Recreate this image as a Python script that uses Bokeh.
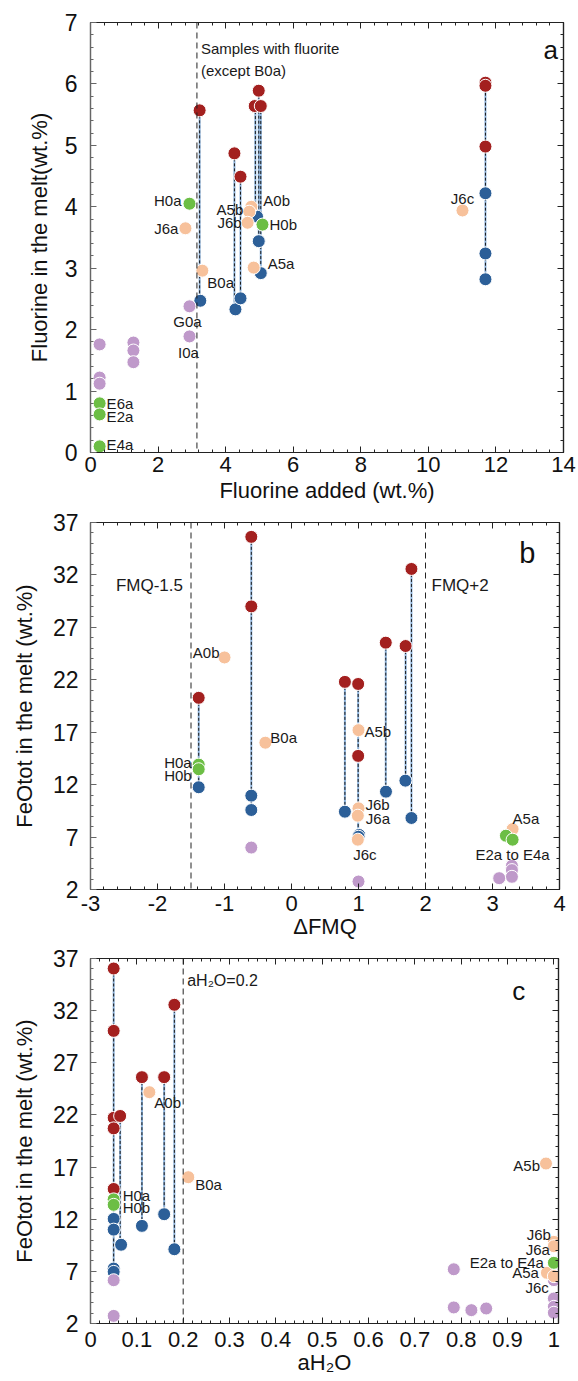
from bokeh.plotting import figure
from bokeh.models import FixedTicker, LinearAxis, Span, Range1d, CustomLabelingPolicy
from bokeh.layouts import column
from bokeh.embed import file_html
from bokeh.resources import INLINE
from bokeh.core.properties import value

FONT = "Liberation Sans"
RED = "#A3201F"
BLUE = "#2C5F98"
PEACH = "#F7C19B"
GREEN = "#6CBE45"
PURPLE = "#BF99CA"

# ---------------- Panel a data ----------------
a_red_x = [3.23, 4.26, 4.44, 4.86, 4.98, 5.04, 11.69, 11.69, 11.69]
a_red_y = [5.57, 4.87, 4.49, 5.64, 5.89, 5.64, 6.02, 5.97, 4.98]
a_blue_x = [3.25, 4.29, 4.44, 4.93, 4.98, 5.04, 11.69, 11.69, 11.69]
a_blue_y = [2.47, 2.33, 2.51, 3.84, 3.44, 2.92, 4.22, 3.24, 2.82]
a_peach_x = [3.31, 2.81, 4.76, 4.70, 4.65, 4.83, 11.01]
a_peach_y = [2.96, 3.65, 4.00, 3.92, 3.74, 3.01, 3.94]
a_green_x = [2.93, 5.09, 0.27, 0.27, 0.27]
a_green_y = [4.05, 3.71, 0.80, 0.62, 0.10]
a_purple_x = [2.93, 2.93, 0.27, 0.27, 0.27, 1.27, 1.27, 1.27]
a_purple_y = [2.38, 1.89, 1.76, 1.22, 1.12, 1.79, 1.66, 1.47]
a_tie_x = [3.23, 4.26, 4.44, 4.88, 4.98, 5.04, 11.69]
a_tie_top = [5.57, 4.87, 4.49, 5.64, 5.89, 5.64, 6.02]
a_tie_bot = [2.47, 2.33, 2.51, 3.84, 3.44, 2.92, 2.82]
a_fluorite_line = 3.15

# ---------------- Panel b data ----------------
b_red_x = [-0.60, -0.60, -1.385, 0.797, 0.995, 0.995, 1.407, 1.703, 1.79]
b_red_y = [35.63, 29.0, 20.28, 21.8, 21.6, 14.74, 25.54, 25.22, 32.57]
b_blue_x = [-0.60, -0.60, -1.385, 0.797, 1.01, 1.0, 1.41, 1.70, 1.79]
b_blue_y = [10.95, 9.58, 11.75, 9.42, 7.2, 7.03, 11.33, 12.38, 8.82]
b_peach_x = [-1.0, -0.39, 1.0, 1.0, 0.99, 0.99, 3.30]
b_peach_y = [24.13, 16.0, 17.2, 9.74, 9.04, 6.75, 7.76]
b_green_x = [-1.385, -1.385, 3.20, 3.30]
b_green_y = [13.91, 13.47, 7.13, 6.75]
b_purple_x = [-0.60, 1.0, 3.29, 3.29, 3.29, 3.10]
b_purple_y = [6.0, 2.76, 4.26, 3.85, 3.21, 3.08]
b_tie_x = [-1.385, -0.60, 0.797, 0.995, 1.407, 1.703, 1.79]
b_tie_top = [20.28, 35.63, 21.8, 21.6, 25.54, 25.22, 32.57]
b_tie_bot = [11.75, 9.58, 9.42, 7.03, 11.33, 12.38, 8.82]
b_fmq_lines = [-1.5, 2.0]

# ---------------- Panel c data ----------------
c_red_x = [0.05, 0.05, 0.05, 0.064, 0.05, 0.05, 0.111, 0.159, 0.181]
c_red_y = [36.04, 30.06, 21.72, 21.9, 20.71, 14.9, 25.62, 25.62, 32.56]
c_blue_x = [0.05, 0.05, 0.05, 0.05, 0.066, 0.111, 0.159, 0.181]
c_blue_y = [12.03, 11.0, 7.27, 6.95, 9.55, 11.36, 12.48, 9.12]
c_peach_x = [0.127, 0.211, 0.983, 1.0, 1.0, 0.985, 1.0]
c_peach_y = [24.18, 16.03, 17.34, 9.83, 9.41, 6.86, 6.54]
c_green_x = [0.05, 0.05, 1.0]
c_green_y = [13.9, 13.38, 7.82]
c_purple_x = [0.05, 0.05, 0.784, 0.784, 0.822, 0.854, 1.0, 1.0, 1.0, 1.0]
c_purple_y = [6.15, 2.73, 7.2, 3.54, 3.28, 3.44, 6.16, 4.4, 3.6, 3.03]
c_tie_x = [0.05, 0.064, 0.111, 0.159, 0.181]
c_tie_top = [36.04, 21.9, 25.62, 25.62, 32.56]
c_tie_bot = [6.95, 9.55, 11.36, 12.48, 9.12]
c_aw_line = 0.2

# ---------------- tick labels ----------------
a_xticks = [0, 2, 4, 6, 8, 10, 12, 14]
a_yticks = [0, 1, 2, 3, 4, 5, 6, 7]
b_xticks = [-3, -2, -1, 0, 1, 2, 3, 4]
b_xlabels = ["-3", "-2", "-1", "0", "1", "2", "3", "4"]
fe_yticks = [2, 7, 12, 17, 22, 27, 32, 37]
c_xticks = [0, 0.1, 0.2, 0.3, 0.4, 0.5, 0.6, 0.7, 0.8, 0.9, 1]
c_xlabels = ["0", "0.1", "0.2", "0.3", "0.4", "0.5", "0.6", "0.7", "0.8", "0.9", "1"]

# point labels: text, x, y, align, dx(px), dy(px)
a_labels = [
    ("H0a", 2.93, 4.05, "right", -8, -3),
    ("J6a", 2.81, 3.65, "right", -7, 0),
    ("A5b", 4.70, 3.92, "right", -6, -2),
    ("J6b", 4.65, 3.74, "right", -6, 0),
    ("A0b", 4.76, 4.00, "left", 12, -6),
    ("H0b", 5.09, 3.71, "left", 7, 0),
    ("B0a", 3.31, 2.96, "left", 5, 12),
    ("A5a", 4.83, 3.01, "left", 14, -4),
    ("G0a", 2.93, 2.38, "center", -2, 15),
    ("I0a", 2.93, 1.89, "center", -1, 16),
    ("E6a", 0.27, 0.80, "left", 7, 0),
    ("E2a", 0.27, 0.62, "left", 7, 2),
    ("E4a", 0.27, 0.10, "left", 7, -2),
    ("J6c", 11.01, 3.94, "center", 0, -12),
]
b_labels = [
    ("A0b", -1.0, 24.13, "right", -5, -5),
    ("B0a", -0.39, 16.0, "left", 5, -5),
    ("H0a", -1.385, 13.91, "right", -7, -2),
    ("H0b", -1.385, 13.47, "right", -7, 6),
    ("A5b", 1.0, 17.2, "left", 6, 1),
    ("J6b", 1.0, 9.74, "left", 7, -4),
    ("J6a", 0.99, 9.04, "left", 8, 3),
    ("J6c", 0.99, 6.75, "center", 7, 15),
    ("A5a", 3.30, 7.76, "left", 0, -11),
    ("E2a to E4a", 3.30, 6.75, "center", 0, 15),
]
c_labels = [
    ("H0a", 0.05, 13.9, "left", 9, -4),
    ("H0b", 0.05, 13.38, "left", 9, 3),
    ("A0b", 0.127, 24.18, "left", 5, 10),
    ("B0a", 0.211, 16.03, "left", 7, 7),
    ("A5b", 0.983, 17.34, "right", -6, 2),
    ("J6b", 1.0, 9.83, "right", -3, -7),
    ("J6a", 1.0, 9.41, "right", -4, 3),
    ("E2a to E4a", 1.0, 7.82, "right", -10, 0),
    ("A5a", 0.985, 6.86, "right", -8, 0),
    ("J6c", 1.0, 6.54, "right", -5, 11),
]


def frange(a, b, step):
    n = int(round((b - a) / step))
    return [round(a + i * step, 6) for i in range(n + 1)]


HIDE_LABELS = "for (const i of indices) { indices.unset(i) }\nreturn indices"


def style_axis(ax, color="#222", labels=True, size="22px", standoff=5, label_standoff=0):
    ax.major_tick_in = 6
    ax.major_tick_out = 0
    ax.minor_tick_in = 3
    ax.minor_tick_out = 0
    ax.axis_line_color = color
    ax.major_tick_line_color = color
    ax.minor_tick_line_color = color
    ax.axis_line_width = 1.2
    ax.major_label_text_font = FONT
    ax.major_label_text_color = "#111"
    ax.axis_label_text_font = FONT
    ax.axis_label_text_font_style = "normal"
    ax.axis_label_text_font_size = "22px"
    ax.axis_label_text_color = "#111"
    if labels:
        ax.major_label_text_font_size = size
        ax.major_label_standoff = standoff
        ax.axis_label_standoff = label_standoff
    else:
        ax.major_label_text_font_size = "0px"
        ax.major_label_standoff = 0
        ax.axis_label = None
        ax.major_label_policy = CustomLabelingPolicy(code=HIDE_LABELS)


def make_fig(xr, yr, xt, xm, yt, ym, fw, fh, bl, br, bt, bb, xlabel, ylabel,
             xover=None, xstand=4, xlstand=0, ystand=13, ylstand=10):
    p = figure(frame_width=fw, frame_height=fh,
               x_range=Range1d(*xr), y_range=Range1d(*yr),
               min_border_left=bl, min_border_right=br,
               min_border_top=bt, min_border_bottom=bb,
               output_backend="svg", toolbar_location=None,
               background_fill_color="white", border_fill_color="white",
               outline_line_color="#222", outline_line_width=1.2)
    p.xgrid.visible = False
    p.ygrid.visible = False
    xtick = FixedTicker(ticks=xt, minor_ticks=xm)
    ytick = FixedTicker(ticks=yt, minor_ticks=ym)
    bx = p.below[0]
    ly = p.left[0]
    bx.ticker = xtick
    ly.ticker = ytick
    bx.axis_label = xlabel
    ly.axis_label = ylabel
    if xover:
        bx.major_label_overrides = xover
    style_axis(bx, "#222", True, "22px", xstand, xlstand)
    style_axis(ly, "#666", True, "23px", ystand, ylstand)
    top = LinearAxis(ticker=xtick)
    right = LinearAxis(ticker=ytick)
    style_axis(top, "#222", False)
    style_axis(right, "#222", False)
    p.add_layout(top, "above")
    p.add_layout(right, "right")
    return p


def draw_ties(p, xs, y0, y1):
    p.segment(x0=xs, y0=y0, x1=xs, y1=y1, line_color="#8DB3DC", line_width=2)
    p.segment(x0=xs, y0=y0, x1=xs, y1=y1, line_color="#1a1a1a", line_width=1,
              line_dash="3 2")


def draw_points(p, groups):
    for xs, ys, col in groups:
        p.scatter(xs, ys, size=13, fill_color=col, line_color="white", line_width=1)


def draw_labels(p, labels, size="15px"):
    for t, x, y, al, dx, dy in labels:
        p.text(x=[x], y=[y], text=[t], text_align=al, text_baseline="middle",
               x_offset=dx, y_offset=dy, text_font=value(FONT),
               text_font_size=size, text_color="#1a1a1a")


def vline(p, x):
    p.add_layout(Span(location=x, dimension="height", line_color="#222",
                      line_width=1, line_dash="6 4"))


# ---------------- Panel a ----------------
pa = make_fig((0, 14), (0, 7), a_xticks, frange(0, 14, 0.4), a_yticks, frange(0, 7, 0.2),
              473, 430, 88, 17, 22, 57,
              "Fluorine added (wt.%)", "Fluorine in the melt(wt.%)",
              xstand=4, xlstand=3, ystand=13, ylstand=10)
vline(pa, a_fluorite_line)
draw_ties(pa, a_tie_x, a_tie_top, a_tie_bot)
draw_points(pa, [(a_red_x, a_red_y, RED), (a_blue_x, a_blue_y, BLUE),
                 (a_purple_x, a_purple_y, PURPLE), (a_peach_x, a_peach_y, PEACH),
                 (a_green_x, a_green_y, GREEN)])
draw_labels(pa, a_labels)
pa.text(x=[a_fluorite_line, a_fluorite_line], y=[6.58, 6.22],
        text=["Samples with fluorite", "(except B0a)"], x_offset=4,
        text_align="left", text_baseline="middle", text_font=value(FONT),
        text_font_size="15px", text_color="#1a1a1a")
pa.text(x=[13.62], y=[6.55], text=["a"], text_align="center", text_baseline="middle",
        text_font=value(FONT), text_font_size="26px", text_color="#111")

# ---------------- Panel b ----------------
pb = make_fig((-3, 4), (2, 37), b_xticks, frange(-3, 4, 0.2), fe_yticks, frange(2, 37, 1),
              469, 367, 89, 20, 13, 56,
              "\u0394FMQ", "FeOtot in the melt (wt.%)",
              xover=dict(zip(b_xticks, b_xlabels)), xstand=6, xlstand=0, ystand=12, ylstand=13)
for loc in b_fmq_lines:
    vline(pb, loc)
draw_ties(pb, b_tie_x, b_tie_top, b_tie_bot)
draw_points(pb, [(b_red_x, b_red_y, RED), (b_blue_x, b_blue_y, BLUE),
                 (b_purple_x, b_purple_y, PURPLE), (b_peach_x, b_peach_y, PEACH),
                 (b_green_x, b_green_y, GREEN)])
draw_labels(pb, b_labels)
pb.text(x=[b_fmq_lines[0]], y=[31.0], text=["FMQ-1.5"], x_offset=-8, text_align="right",
        text_baseline="middle", text_font=value(FONT), text_font_size="17px", text_color="#1a1a1a")
pb.text(x=[b_fmq_lines[1]], y=[31.0], text=["FMQ+2"], x_offset=6, text_align="left",
        text_baseline="middle", text_font=value(FONT), text_font_size="17px", text_color="#1a1a1a")
pb.text(x=[3.52], y=[34.1], text=["b"], text_align="center", text_baseline="middle",
        text_font=value(FONT), text_font_size="29px", text_color="#111")

# ---------------- Panel c ----------------
pc = make_fig((0, 1.01), (2, 37), c_xticks, frange(0, 1.0, 0.02), fe_yticks, frange(2, 37, 1),
              468, 365, 90, 20, 13, 58,
              "aH\u2082O", "FeOtot in the melt (wt.%)",
              xover=dict(zip(c_xticks, c_xlabels)), xstand=8, xlstand=0, ystand=12, ylstand=13)
vline(pc, c_aw_line)
draw_ties(pc, c_tie_x, c_tie_top, c_tie_bot)
draw_points(pc, [(c_red_x, c_red_y, RED), (c_blue_x, c_blue_y, BLUE),
                 (c_purple_x, c_purple_y, PURPLE), (c_peach_x, c_peach_y, PEACH),
                 (c_green_x, c_green_y, GREEN)])
draw_labels(pc, c_labels)
pc.text(x=[c_aw_line], y=[34.86], text=["aH\u2082O=0.2"], x_offset=4, text_align="left",
        text_baseline="middle", text_font=value(FONT), text_font_size="16px", text_color="#1a1a1a")
pc.text(x=[0.924], y=[33.9], text=["c"], text_align="center", text_baseline="middle",
        text_font=value(FONT), text_font_size="26px", text_color="#111")

layout = column(pa, pb, pc, spacing=0)
open("out.html", "w").write(file_html(layout, INLINE))
